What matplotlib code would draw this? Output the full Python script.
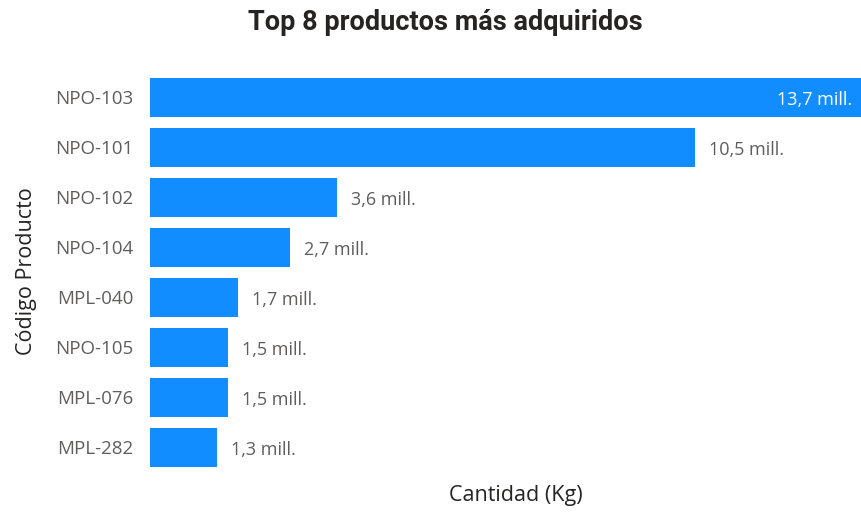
import matplotlib.pyplot as plt

productos = ["NPO-103", "NPO-101", "NPO-102", "NPO-104", "MPL-040", "NPO-105", "MPL-076", "MPL-282"]
cantidad_mill = [13.7, 10.5, 3.6, 2.7, 1.7, 1.5, 1.5, 1.3]

azul = "#118DFF"
gris = "#605E5C"
oscuro = "#252423"

fig = plt.figure(figsize=(8.61, 5.12), dpi=100)
ax = fig.add_axes([150 / 861, 39.5 / 512, 1 - 150 / 861, 400 / 512])

pos = list(range(len(productos)))
ax.barh(pos, cantidad_mill, height=0.78, color=azul)
ax.set_ylim(len(productos) - 0.5, -0.5)
ax.set_xlim(0, 13.7)

for y, v in zip(pos, cantidad_mill):
    txt = f"{v:.1f}".replace(".", ",") + " mill."
    if v >= 13.0:
        ax.text(v - 0.17, y + 0.05, txt, ha="right", va="center", color="white",
                fontsize=13, family="Open Sans")
    else:
        ax.text(v + 0.27, y + 0.05, txt, ha="left", va="center", color=gris,
                fontsize=13, family="Open Sans")

ax.set_yticks(pos)
ax.set_yticklabels(productos, family="Open Sans", fontsize=13.5, color=gris)
ax.tick_params(axis="y", length=0, pad=12)
ax.set_xticks([])
for s in ax.spines.values():
    s.set_visible(False)

fig.text(27 / 861, 1 - 271 / 512, "Código Producto", rotation=90, ha="center", va="center",
         fontsize=15.5, color=oscuro, family="Open Sans")
fig.text(516 / 861, 1 - 495 / 512, "Cantidad (Kg)", ha="center", va="center",
         fontsize=15.5, color=oscuro, family="Open Sans")
fig.text(445 / 861, 1 - 22 / 512, "Top 8 productos más adquiridos", ha="center", va="center",
         fontsize=19.5, fontweight="bold", color=oscuro, family="Roboto")

fig.savefig("out.png", dpi=100)
